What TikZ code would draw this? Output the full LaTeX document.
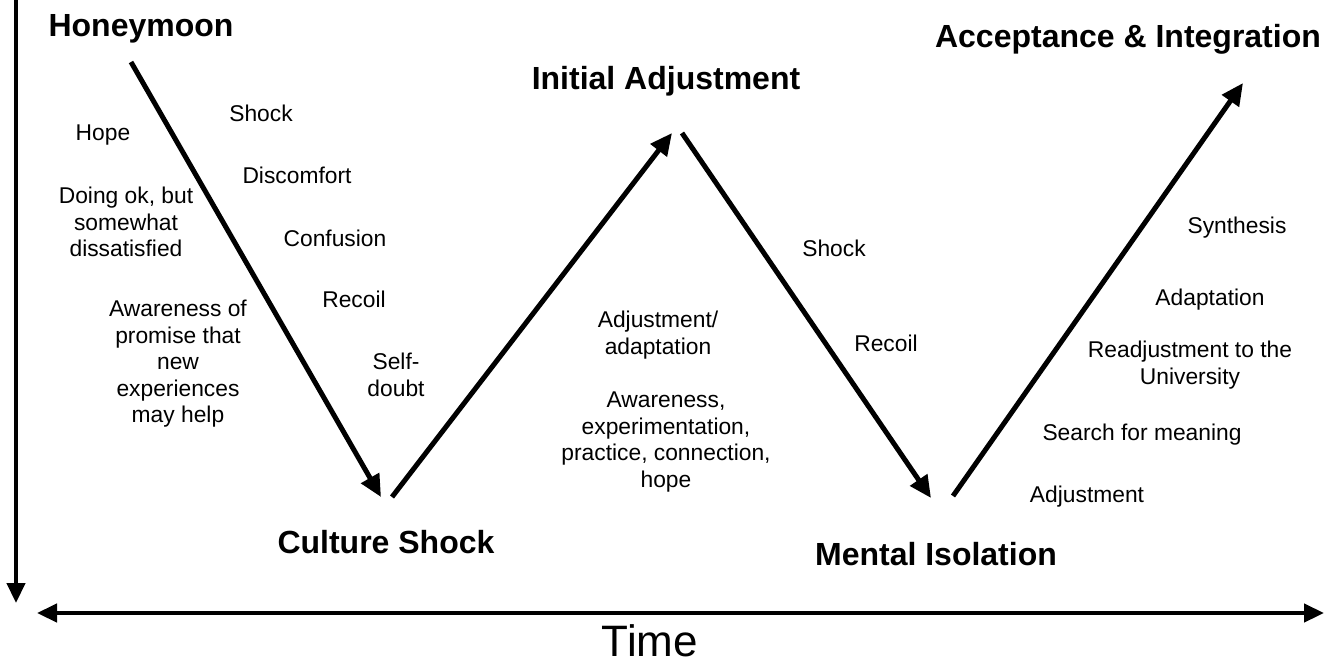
\documentclass[tikz,border=0pt]{standalone}
\usepackage{fontspec}
\setmainfont{Liberation Sans}
\usetikzlibrary{arrows.meta}
\tikzset{%
	stage/.style={
		font=\bfseries\fontsize{32}{38}\selectfont,
		anchor=base,
		inner sep=0pt
	},
	note/.style={
		font=\fontsize{22.8}{26.5}\selectfont,
		align=center,
		inner sep=0pt
	},
	phase-arrow/.style={ line width=5pt, -{Triangle[length=22pt,width=20pt]} },
	time-axis/.style={ line width=4.5pt },
}

\begin{document}
\begin{tikzpicture}[x=1pt, y=-1pt]
\useasboundingbox (0,0) rectangle (1326,664);

% axes
\coordinate (axis-top) at (16,0);
\coordinate (axis-bottom) at (16,603);
\coordinate (time-left) at (37,613);
\coordinate (time-right) at (1324,613);
\draw[time-axis, -{Triangle[length=20pt,width=18pt]}] (axis-top) -- (axis-bottom);
\draw[time-axis, {Triangle[length=20pt,width=18pt]}-{Triangle[length=20pt,width=18pt]}] (time-left) -- (time-right);
\node[font=\fontsize{44}{50}\selectfont, inner sep=0pt] (time) at (650,641) {Time};

% stages
\node[stage] (honeymoon) at (141,36) {Honeymoon};
\node[stage] (initial) at (666,89) {Initial Adjustment};
\node[stage] (acceptance) at (1128,47) {Acceptance \& Integration};
\node[stage] (culture) at (386,553) {Culture Shock};
\node[stage] (isolation) at (936,565) {Mental Isolation};

% curve
\foreach \n/\x/\y in {p1/131/62, p2/381/497, p3/392/497, p4/672/133,
	p5/682/133, p6/931/498, p7/953/496, p8/1243/83}
	\coordinate (\n) at (\x,\y);
\foreach \a/\b in {p1/p2, p3/p4, p5/p6, p7/p8}
	\draw[phase-arrow] (\a) -- (\b);

% feelings
\foreach \n/\x/\y/\t in {
	hope/103/135/Hope,
	shock-1/261/113/Shock,
	discomfort/297/175/Discomfort,
	doing-ok/126/222/{Doing ok, but\\somewhat\\dissatisfied},
	confusion/335/238/Confusion,
	recoil-1/354/299/Recoil,
	awareness-1/178/364/{Awareness of\\promise that\\new\\experiences\\may help},
	self-doubt/396/375/{Self-\\doubt},
	shock-2/834/248/Shock,
	recoil-2/886/343/Recoil,
	adjustment-1/658/335/{Adjustment/\\adaptation},
	awareness-2/666/442/{Awareness,\\experimentation,\\practice, connection,\\hope},
	synthesis/1237/228/Synthesis,
	adaptation/1210/300/Adaptation,
	readjustment/1190/365/{Readjustment to the\\University},
	search/1142/435/Search for meaning,
	adjustment-2/1087/497/Adjustment}
	\node[note] (\n) at (\x,\y) {\t};

\end{tikzpicture}
\end{document}
